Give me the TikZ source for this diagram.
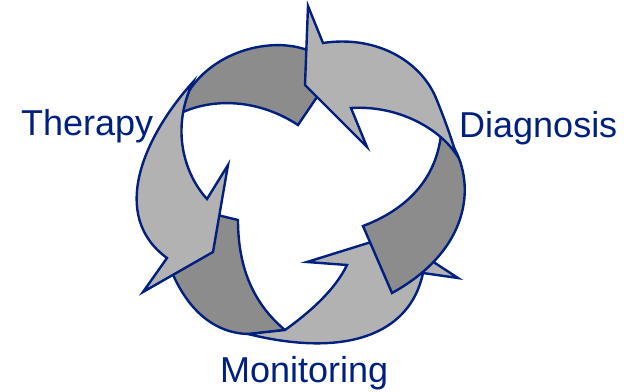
\documentclass[tikz,border=0pt]{standalone}
\usepackage{fontspec}
\setmainfont{Liberation Sans}
\definecolor{navy}{RGB}{0,32,128}
\definecolor{darkg}{RGB}{140,140,140}
\definecolor{lightg}{RGB}{178,178,178}
\begin{document}
\begin{tikzpicture}[x=1pt,y=-1pt,
  darkpart/.style={fill=darkg,draw=navy,line width=2.4pt},
  lightpart/.style={fill=lightg,draw=navy,line width=2.4pt},
  lbl/.style={text=navy,font=\fontsize{36}{40}\selectfont,inner sep=0pt,anchor=base west}]
\useasboundingbox (0,0) rectangle (637,391);
% ribbon 2 dark (top-left)
\path[darkpart] (189,91) .. controls (215,50) and (275,35) .. (312,52) -- (318,62) -- (317,97) -- (298,125) .. controls (260,100) and (215,97) .. (181,113) -- cycle;
% ribbon 3 dark (bottom-left)
\path[darkpart] (205,212) -- (238,220) .. controls (238,270) and (255,305) .. (285,330) -- (250,334) .. controls (215,334) and (185,310) .. (168,262) -- cycle;
% ribbon 3 light (bottom)
\path[lightpart] (248,334) -- (285,330) .. controls (310,312) and (335,290) .. (347,265) -- (307,262) -- (368,243) -- (405,240) -- (435,263) -- (458,278) -- (423,273) .. controls (410,335) and (345,358) .. (248,334) -- cycle;
% ribbon 1 dark (right)
\path[darkpart] (441,135) -- (453,146) .. controls (476,185) and (470,250) .. (392,293) -- (363,226) .. controls (400,212) and (435,185) .. (441,135) -- cycle;
% ribbon 1 light (top)
\path[lightpart] (456,154) .. controls (440,130) and (400,105) .. (351,108) -- (367,147) -- (305,85) -- (308,6) -- (323,43) .. controls (375,35) and (420,60) .. (436,98) .. controls (445,120) and (452,140) .. (456,154) -- cycle;
% ribbon 2 light (left)
\path[lightpart] (193,82) .. controls (145,135) and (108,215) .. (167,258) -- (143,292) -- (213,252) -- (228,165) -- (207,199) .. controls (185,175) and (170,130) .. (193,82) -- cycle;
% labels
\node[lbl] (therapy) at (21,135) {Therapy};
\node[lbl] (diag) at (459,137) {Diagnosis};
\node[lbl] (mon) at (220,382) {Monitoring};
\end{tikzpicture}
\end{document}
